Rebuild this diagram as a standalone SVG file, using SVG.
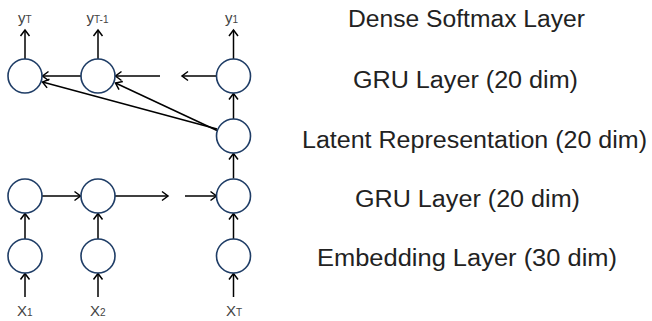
<svg xmlns="http://www.w3.org/2000/svg" width="652" height="321" viewBox="0 0 652 321">
<defs>
<marker id="ah" markerUnits="userSpaceOnUse" markerWidth="12" markerHeight="12" refX="0" refY="0" viewBox="-8 -6 10 12" orient="auto" overflow="visible">
<path d="M-6,-4.5 L0,0 L-6,4.5" fill="none" stroke="#000" stroke-width="1.5"/>
</marker>
<style>
.n{fill:#fff;stroke:#1f3d66;stroke-width:1.6}
.c line{stroke:#000;stroke-width:1.5;marker-end:url(#ah)}
.lab{font-family:"Liberation Sans",Arial,sans-serif;font-size:15px;fill:#444}
.sub{font-size:10px}
.lay{font-family:"Liberation Sans",Arial,sans-serif;font-size:23px;fill:#222;text-anchor:middle}
</style>
</defs>
<rect width="652" height="321" fill="#fff"/>
<g class="c" id="connectors">
<line x1="25" y1="59" x2="25" y2="30"/>
<line x1="98" y1="59" x2="98" y2="30"/>
<line x1="233.5" y1="59" x2="233.5" y2="30"/>
<line x1="81" y1="76" x2="42.5" y2="76"/>
<line x1="160" y1="76" x2="115.5" y2="76"/>
<line x1="217" y1="76" x2="182" y2="76"/>
<line x1="233.5" y1="119" x2="233.5" y2="93.5"/>
<line x1="217" y1="129" x2="42.5" y2="82"/>
<line x1="217" y1="130.5" x2="115.5" y2="83"/>
<line x1="233.5" y1="178.5" x2="233.5" y2="153.5"/>
<line x1="42" y1="196" x2="80.5" y2="196"/>
<line x1="115" y1="196" x2="168" y2="196"/>
<line x1="185" y1="196" x2="216.5" y2="196"/>
<line x1="25" y1="239" x2="25" y2="213.5"/>
<line x1="98" y1="239" x2="98" y2="213.5"/>
<line x1="233.5" y1="239" x2="233.5" y2="213.5"/>
<line x1="25" y1="297" x2="25" y2="273.5"/>
<line x1="98" y1="297" x2="98" y2="273.5"/>
<line x1="233.5" y1="297" x2="233.5" y2="273.5"/>
</g>
<g id="dec1"><circle class="n" cx="25" cy="76" r="17"/></g>
<g id="dec2"><circle class="n" cx="98" cy="76" r="17"/></g>
<g id="decT"><circle class="n" cx="233.5" cy="76" r="17"/></g>
<g id="latent"><circle class="n" cx="233.5" cy="136" r="17"/></g>
<g id="enc1"><circle class="n" cx="25" cy="196" r="17"/></g>
<g id="enc2"><circle class="n" cx="98" cy="196" r="17"/></g>
<g id="encT"><circle class="n" cx="233.5" cy="196" r="17"/></g>
<g id="emb1"><circle class="n" cx="25" cy="256" r="17"/></g>
<g id="emb2"><circle class="n" cx="98" cy="256" r="17"/></g>
<g id="embT"><circle class="n" cx="233.5" cy="256" r="17"/></g>
<g id="labels">
<text class="lab" x="18" y="22.5">y<tspan class="sub">T</tspan></text>
<text class="lab" x="86.5" y="22.5">y<tspan class="sub">T-1</tspan></text>
<text class="lab" x="225" y="22.5">y<tspan class="sub">1</tspan></text>
<text class="lab" x="17" y="316">X<tspan class="sub">1</tspan></text>
<text class="lab" x="90" y="316">X<tspan class="sub">2</tspan></text>
<text class="lab" x="226" y="316">X<tspan class="sub">T</tspan></text>
</g>
<g id="layers">
<text class="lay" x="466.5" y="27" textLength="237" lengthAdjust="spacingAndGlyphs">Dense Softmax Layer</text>
<text class="lay" x="465.5" y="88" textLength="225" lengthAdjust="spacingAndGlyphs">GRU Layer (20 dim)</text>
<text class="lay" x="474.5" y="148" textLength="345" lengthAdjust="spacingAndGlyphs">Latent Representation (20 dim)</text>
<text class="lay" x="467.5" y="207" textLength="225" lengthAdjust="spacingAndGlyphs">GRU Layer (20 dim)</text>
<text class="lay" x="467" y="266" textLength="300" lengthAdjust="spacingAndGlyphs">Embedding Layer (30 dim)</text>
</g>
</svg>
